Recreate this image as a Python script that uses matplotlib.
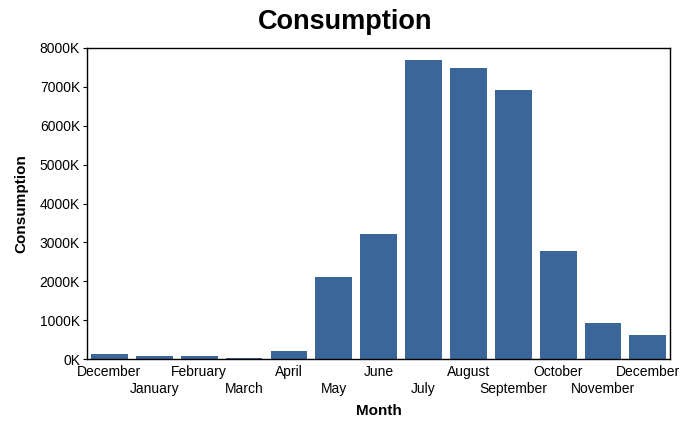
import matplotlib
matplotlib.use('Agg')
import matplotlib.pyplot as plt
import numpy as np

months = ['December', 'January', 'February', 'March', 'April', 'May', 'June',
          'July', 'August', 'September', 'October', 'November', 'December']
consumption_k = [135, 85, 80, 25, 210, 2110, 3220, 7700, 7490, 6930, 2780, 930, 620]

plt.rcParams['font.family'] = ['Liberation Sans', 'DejaVu Sans']

fig = plt.figure(figsize=(6.91, 4.21), dpi=100)
ax = fig.add_axes([0.126, 0.147, 0.844, 0.739])

x = np.arange(len(months))
ax.bar(x, consumption_k, width=0.82, color='#3a6699')
ax.set_xlim(-0.5, len(months) - 0.5)
ax.set_ylim(0, 8000)
ax.set_yticks(np.arange(0, 8001, 1000))
ax.set_yticklabels([f'{int(v)}K' for v in np.arange(0, 8001, 1000)], fontsize=10)

ax.set_xticks(x)
ax.set_xticklabels(months, fontsize=10)
for i, lab in enumerate(ax.get_xticklabels()):
    if i % 2 == 1:
        lab.set_y(-0.055)
ax.tick_params(axis='x', length=0, pad=4)
ax.tick_params(axis='y', length=3, pad=2)

for s in ax.spines.values():
    s.set_linewidth(1.0)
    s.set_color('black')

ax.set_xlabel('Month', fontsize=11, fontweight='bold')
ax.xaxis.set_label_coords(0.5, -0.145)
ax.set_ylabel('Consumption', fontsize=11, fontweight='bold', labelpad=8)
fig.suptitle('Consumption', fontsize=19.5, fontweight='bold', y=0.978)

fig.savefig('out.png', dpi=100)
